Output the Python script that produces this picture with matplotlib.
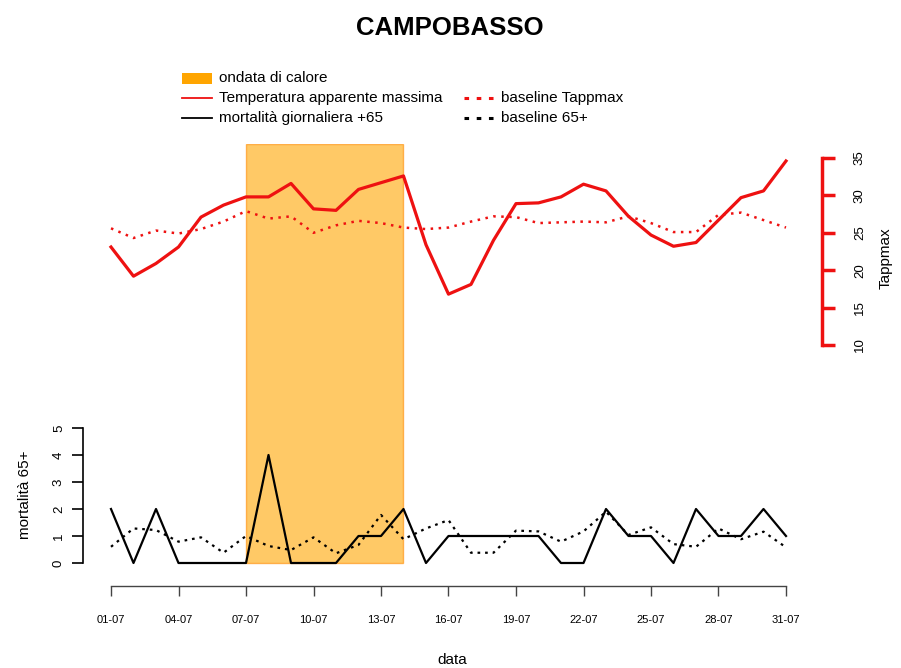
import matplotlib.pyplot as plt
from matplotlib.patches import Rectangle
from matplotlib.lines import Line2D

plt.rcParams['font.family'] = ['Liberation Sans', 'DejaVu Sans']

# days of July
days = list(range(1, 32))
tick_days = [1, 4, 7, 10, 13, 16, 19, 22, 25, 28, 31]
tick_labels = ['01-07', '04-07', '07-07', '10-07', '13-07', '16-07',
               '19-07', '22-07', '25-07', '28-07', '31-07']

# apparent max temperature and its baseline
tappmax = [23.1, 19.2, 20.9, 23.1, 27.1, 28.7, 29.8, 29.8, 31.6, 28.2, 28.0,
           30.8, 31.7, 32.6, 23.4, 16.8, 18.1, 24.0, 28.9, 29.0, 29.8, 31.5,
           30.6, 27.2, 24.7, 23.2, 23.7, 26.7, 29.7, 30.6, 34.6]
base_tapp = [25.6, 24.3, 25.3, 24.9, 25.5, 26.5, 27.9, 26.9, 27.2, 25.0, 26.0,
             26.6, 26.3, 25.7, 25.5, 25.7, 26.5, 27.2, 27.1, 26.3, 26.4, 26.5,
             26.4, 27.2, 26.3, 25.1, 25.1, 27.4, 27.7, 26.7, 25.7]

# daily deaths 65+ and baseline
mort = [2, 0, 2, 0, 0, 0, 0, 4, 0, 0, 0, 1, 1, 2, 0, 1, 1, 1, 1, 1, 0, 0,
        2, 1, 1, 0, 2, 1, 1, 2, 1]
base_mort = [0.60, 1.28, 1.22, 0.79, 0.95, 0.38, 1.00, 0.63, 0.48, 0.95, 0.36,
             0.67, 1.78, 0.88, 1.28, 1.59, 0.38, 0.38, 1.20, 1.17, 0.79, 1.17,
             1.90, 1.04, 1.32, 0.70, 0.60, 1.28, 0.88, 1.16, 0.58]

# heat wave period
wave_start, wave_end = 7, 14

W, H = 901, 668
fig = plt.figure(figsize=(W / 100, H / 100), dpi=100)


def fx(x):
    return x / W


def fy(y):
    return 1 - y / H


left, right, bottom, top = 83, 822, 586, 144
ax = fig.add_axes([left / W, 1 - bottom / H, (right - left) / W, (bottom - top) / H])

day_px = 22.5
ax.set_xlim(1 + (left - 111) / day_px, 1 + (right - 111) / day_px)
mort_px = 27.0
ax.set_ylim((563 - bottom) / mort_px, (563 - top) / mort_px)

ax.add_patch(Rectangle((wave_start, 0), wave_end - wave_start, (563 - top) / mort_px,
                       facecolor='orange', alpha=0.6, edgecolor='darkorange',
                       linewidth=1, zorder=0))

ax.plot(days, mort, color='black', linewidth=1.6, zorder=3)
ax.plot(days, base_mort, color='black', linewidth=1.6, linestyle=(0, (1.2, 2.2)),
        zorder=3)

for s in ['top', 'right']:
    ax.spines[s].set_visible(False)
ax.spines['left'].set_bounds(0, 5)
ax.spines['left'].set_linewidth(1.2)
ax.spines['bottom'].set_bounds(1, 31)
ax.spines['bottom'].set_linewidth(1.0)
ax.spines['bottom'].set_color('#444444')
ax.set_yticks(range(6))
ax.tick_params(axis='y', length=8, width=1.2, labelsize=9.5, pad=5)
for lab in ax.get_yticklabels():
    lab.set_rotation(90)
    lab.set_va('center')
ax.set_xticks(tick_days)
ax.set_xticklabels(tick_labels, fontsize=8)
ax.tick_params(axis='x', length=7, width=1.0, color='#444444', pad=14)
ax.set_xlabel('data', fontsize=11, labelpad=20)
fig.text(fx(25), fy(495), 'mortalità 65+', rotation=90, fontsize=11,
         ha='center', va='center')

ax2 = ax.twinx()
tapp_px = 7.48
ax2.set_ylim(10 - (bottom - 345) / tapp_px, 10 + (345 - top) / tapp_px)
ax2.plot(days, tappmax, color='#ee1111', linewidth=2.3)
ax2.plot(days, base_tapp, color='#ee1111', linewidth=1.8, linestyle=(0, (1.0, 2.2)))
for s in ['top', 'left', 'bottom']:
    ax2.spines[s].set_visible(False)
ax2.spines['right'].set_bounds(10, 35)
ax2.spines['right'].set_color('#ee1111')
ax2.spines['right'].set_linewidth(2.5)
ax2.set_yticks(range(10, 36, 5))
ax2.tick_params(axis='y', length=9, width=2.5, color='#ee1111', labelsize=9.5, pad=14)
for lab in ax2.get_yticklabels():
    lab.set_rotation(90)
    lab.set_va('center')
fig.text(fx(886), fy(258), 'Tappmax', rotation=90, fontsize=11,
         ha='center', va='center')

fig.text(fx(450), fy(28), 'CAMPOBASSO', ha='center', va='center',
         fontsize=18.5, fontweight='bold')

# legend drawn in figure pixels, R style
fig.patches.append(Rectangle((fx(182), fy(84)), 30 / W, 11 / H, facecolor='orange',
                             edgecolor='none', transform=fig.transFigure))
rows = [
    (182, 98, '#ee1111', '-', 'Temperatura apparente massima'),
    (182, 118, 'black', '-', 'mortalità giornaliera +65'),
    (464, 98, '#ee1111', (0, (1.5, 2.5)), 'baseline Tappmax'),
    (464, 118, 'black', (0, (1.5, 2.5)), 'baseline 65+'),
]
fig.text(fx(219), fy(78), 'ondata di calore', fontsize=11, va='center')
for x0, y0, c, ls, txt in rows:
    lw = 1.3 if ls == '-' else 2.2
    fig.lines.append(Line2D([fx(x0), fx(x0 + 30)], [fy(y0), fy(y0)], color=c,
                            linestyle=ls, linewidth=lw, transform=fig.transFigure))
    fig.text(fx(x0 + 37), fy(y0), txt, fontsize=11, va='center')

fig.savefig('out.png', dpi=100)
